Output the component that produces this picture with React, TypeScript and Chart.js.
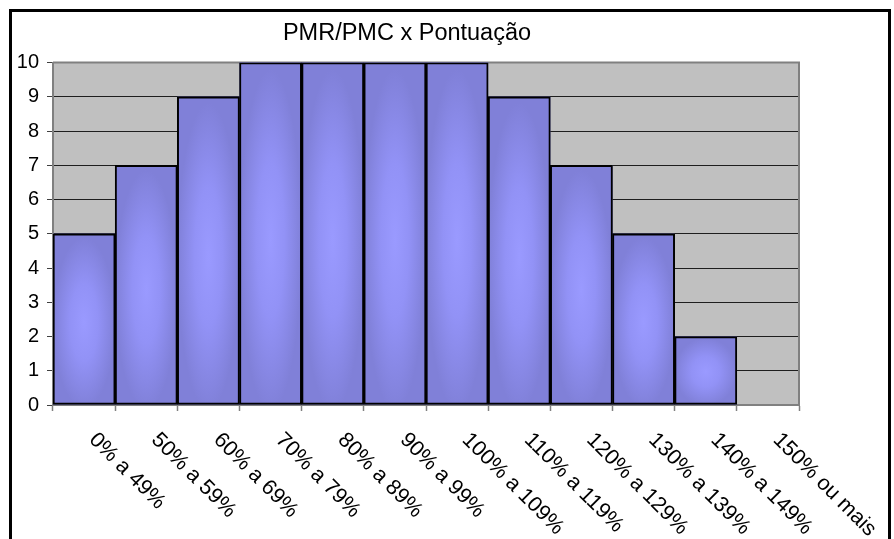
import React, { useEffect, useRef } from 'react';
import { Chart, registerables } from 'chart.js';

Chart.register(...registerables);

const chartTitle = 'PMR/PMC x Pontuação';
const categories = [
  '0% a 49%',
  '50% a 59%',
  '60% a 69%',
  '70% a 79%',
  '80% a 89%',
  '90% a 99%',
  '100% a 109%',
  '110% a 119%',
  '120% a 129%',
  '130% a 139%',
  '140% a 149%',
  '150% ou mais',
];
const counts = [5, 7, 9, 10, 10, 10, 10, 9, 7, 5, 2, 0];
const yMin = 0;
const yMax = 10;
const yStep = 1;

const FONT = "'Liberation Sans', Arial, sans-serif";

export default function App() {
  const ref = useRef<HTMLCanvasElement>(null);

  useEffect(() => {
    const canvas = ref.current;
    if (!canvas) return;

    const plotBg = {
      id: 'plotBg',
      beforeDraw(chart: any) {
        const { ctx, chartArea } = chart;
        const { left, top, right, bottom } = chartArea;
        ctx.save();
        ctx.fillStyle = '#ffffff';
        ctx.fillRect(0, 0, chart.width, chart.height);
        ctx.fillStyle = '#c0c0c0';
        ctx.fillRect(left, top, right - left, bottom - top);
        ctx.restore();
      },
      beforeDatasetsDraw(chart: any) {
        const { ctx, chartArea } = chart;
        const { left, top, right, bottom } = chartArea;
        ctx.save();
        // plot area border (top/right) in gray
        ctx.strokeStyle = '#808080';
        ctx.lineWidth = 2;
        ctx.beginPath();
        ctx.moveTo(left, top);
        ctx.lineTo(right, top);
        ctx.lineTo(right, bottom);
        ctx.stroke();
        // bar gradients
        const meta = chart.getDatasetMeta(0);
        meta.data.forEach((el: any) => {
          const { x, y, base, width } = el.getProps(['x', 'y', 'base', 'width'], true);
          const h = base - y;
          if (h <= 0.5) return;
          const l = x - width / 2;
          ctx.save();
          ctx.beginPath();
          ctx.rect(l, y, width, h);
          ctx.clip();
          ctx.fillStyle = '#8282da';
          ctx.fillRect(l, y, width, h);
          ctx.translate(x, y + h * 0.52);
          ctx.scale(width / 2, h / 2);
          const g = ctx.createRadialGradient(0, 0, 0, 0, 0, 1);
          g.addColorStop(0, 'rgb(154,154,255)');
          g.addColorStop(0.45, 'rgb(146,146,246)');
          g.addColorStop(1, 'rgb(128,128,216)');
          ctx.fillStyle = g;
          ctx.fillRect(-1.2, -1.2, 2.4, 2.4);
          ctx.restore();
        });
        ctx.restore();
      },
      afterDraw(chart: any) {
        const { ctx } = chart;
        const xs = chart.scales.x;
        ctx.save();
        // title
        ctx.fillStyle = '#000000';
        ctx.font = `23.5px ${FONT}`;
        ctx.textAlign = 'center';
        ctx.textBaseline = 'alphabetic';
        ctx.fillText(chartTitle, 407, 39.5);
        // rotated category labels
        ctx.font = `21.5px ${FONT}`;
        ctx.textAlign = 'left';
        ctx.textBaseline = 'top';
        categories.forEach((c, i) => {
          const cx = xs.getPixelForValue(i);
          ctx.save();
          ctx.translate(cx + 16, 429);
          ctx.rotate(Math.PI / 4);
          ctx.fillText(c, 0, 0);
          ctx.restore();
        });
        // outer frame
        ctx.strokeStyle = '#000000';
        ctx.lineWidth = 3;
        ctx.strokeRect(10.5, 10.5, 879, 700);
        ctx.restore();
      },
    };

    const chart = new Chart(canvas, {
      type: 'bar',
      data: {
        labels: categories,
        datasets: [
          {
            data: counts,
            backgroundColor: 'rgba(0,0,0,0)',
            borderColor: '#000000',
            borderWidth: (c: any) => (c.raw ? 1.3 : 0),
            borderSkipped: false,
            categoryPercentage: 1,
            barPercentage: 1,
          },
        ],
      },
      options: {
        responsive: false,
        animation: false,
        layout: { padding: { left: 0, top: 62.5, right: 95, bottom: 0 } },
        plugins: {
          legend: { display: false },
          title: { display: false },
          tooltip: { enabled: false },
        },
        scales: {
          x: {
            offset: true,
            grid: {
              offset: true,
              drawOnChartArea: false,
              drawTicks: true,
              tickLength: 6,
              tickColor: '#808080',
              tickWidth: 1.5,
            },
            border: { display: true, color: '#808080', width: 2 },
            ticks: { display: false },
            afterFit(scale: any) {
              scale.height = 134;
            },
          },
          y: {
            min: yMin,
            max: yMax,
            grid: {
              color: (c: any) => (c.tick && c.tick.value === yMax ? 'rgba(0,0,0,0)' : '#1e1e1e'),
              lineWidth: 1,
              drawTicks: true,
              tickLength: 6,
              tickColor: '#404040',
            },
            border: { display: true, color: '#808080', width: 2 },
            ticks: {
              stepSize: yStep,
              padding: 8,
              color: '#000000',
              font: { family: FONT, size: 20 },
            },
            afterFit(scale: any) {
              scale.width = 53;
            },
          },
        },
      },
      plugins: [plotBg],
    });

    return () => chart.destroy();
  }, []);

  return (
    <div style={{ position: 'fixed', left: 0, top: 0, width: 894, height: 539, background: '#fff' }}>
      <canvas ref={ref} width={894} height={539} style={{ display: 'block' }} />
    </div>
  );
}
